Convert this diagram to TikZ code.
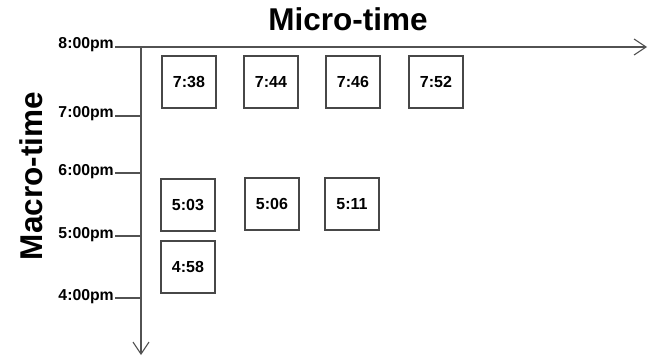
\documentclass[tikz,border=0pt]{standalone}
\usepackage{fontspec}
\setmainfont{Liberation Sans}
\usetikzlibrary{arrows.meta}
\begin{document}
\begin{tikzpicture}[x=1pt,y=-1pt,
  ln/.style={draw=black!68,line width=1.1pt},
  tbox/.style={draw=black!72,line width=1.1pt,minimum width=54pt,minimum height=52pt,inner sep=0pt,font=\fontsize{16}{17}\selectfont\bfseries},
  tlab/.style={anchor=east,inner sep=1pt,font=\fontsize{15.8}{16}\selectfont\bfseries},
  title/.style={font=\fontsize{31.5}{33}\selectfont\bfseries,inner sep=0pt},
  arr/.style={-{Straight Barb[length=12pt,width=16pt]}}]
\useasboundingbox (0,0) rectangle (650,360);
% titles
\node[title] (micro) at (348,19) {Micro-time};
\node[title,rotate=90] (macro) at (31,176) {Macro-time};
% axes
\coordinate (o) at (141,47);
\coordinate (xe) at (647,47);
\coordinate (ye) at (141,355);
\coordinate (t8) at (141,47);
\coordinate (t7) at (141,116);
\coordinate (t6) at (141,173);
\coordinate (t5) at (141,236);
\coordinate (t4) at (141,298);
\draw[ln,arr] (o) -- (xe);
\draw[ln,arr] (o) -- (ye);
% tick labels and ticks
\node[tlab] (l8) at (115,45) {8:00pm};
\node[tlab] (l7) at (115,114) {7:00pm};
\node[tlab] (l6) at (115,172) {6:00pm};
\node[tlab] (l5) at (115,235) {5:00pm};
\node[tlab] (l4) at (115,297) {4:00pm};
\draw[ln] (l8.east |- t8) -- (t8);
\draw[ln] (l7.east |- t7) -- (t7);
\draw[ln] (l6.east |- t6) -- (t6);
\draw[ln] (l5.east |- t5) -- (t5);
\draw[ln] (l4.east |- t4) -- (t4);
% boxes
\node[tbox] (b738) at (189,82) {7:38};
\node[tbox] (b744) at (271,82) {7:44};
\node[tbox] (b746) at (353,82) {7:46};
\node[tbox] (b752) at (436,82) {7:52};
\node[tbox] (b503) at (188,205) {5:03};
\node[tbox] (b506) at (272,204) {5:06};
\node[tbox] (b511) at (352,204) {5:11};
\node[tbox] (b458) at (188,267) {4:58};
\end{tikzpicture}
\end{document}
